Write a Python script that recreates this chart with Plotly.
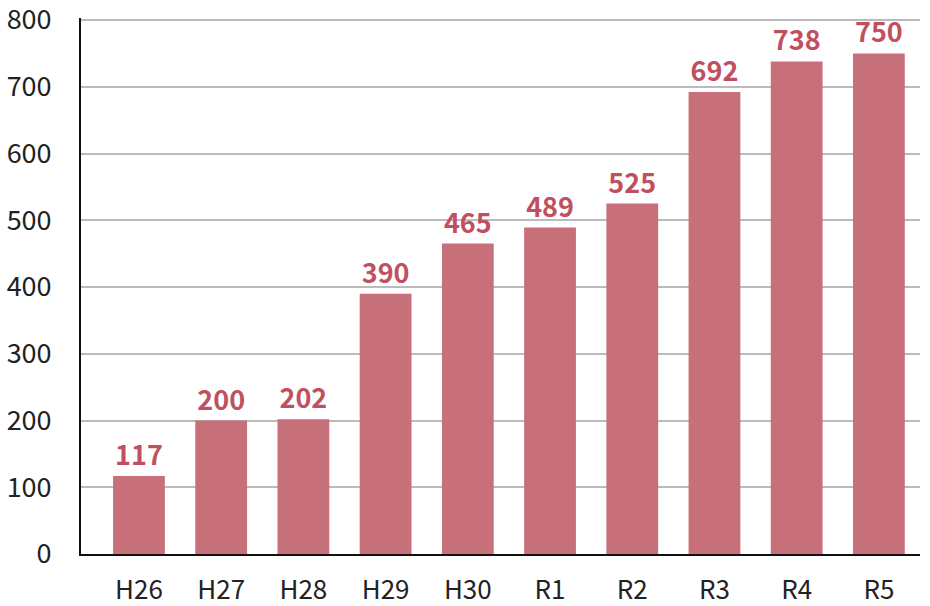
import plotly.graph_objects as go

categories = ["H26", "H27", "H28", "H29", "H30", "R1", "R2", "R3", "R4", "R5"]
values = [117, 200, 202, 390, 465, 489, 525, 692, 738, 750]
y_ticks = [0, 100, 200, 300, 400, 500, 600, 700, 800]

font_family = "Noto Sans CJK JP, Noto Sans, sans-serif"

fig = go.Figure(go.Bar(
    x=list(range(len(categories))),
    y=values,
    width=0.63,
    marker=dict(color="#C8707A", line=dict(width=0)),
    text=[str(v) for v in values],
    textposition="outside",
    cliponaxis=False,
    textfont=dict(family=font_family, size=27, color="#C0505F", weight="bold"),
))

fig.update_layout(
    width=930, height=606,
    margin=dict(l=81, r=10, t=18, b=52, autoexpand=False),
    paper_bgcolor="white", plot_bgcolor="white",
    showlegend=False,
    font=dict(family=font_family, size=27, color="#222222"),
    xaxis=dict(
        range=[-0.705, 9.5],
        tickmode="array",
        tickvals=list(range(len(categories))),
        ticktext=categories,
        showgrid=False,
        showline=True, linecolor="#111111", linewidth=2,
        ticks="", ticklabelstandoff=12,
        tickfont=dict(size=26),
        automargin=False,
        fixedrange=True,
    ),
    yaxis=dict(
        range=[0, 803],
        tickmode="array",
        tickvals=y_ticks,
        showgrid=True, gridcolor="#BBBBBB", gridwidth=1.5,
        showline=True, linecolor="#111111", linewidth=2,
        zeroline=False,
        ticks="", ticklabelstandoff=22,
        ticklabeloverflow="allow",
        tickfont=dict(size=27),
        automargin=False,
        fixedrange=True,
    ),
)

fig.write_html("out.html")
